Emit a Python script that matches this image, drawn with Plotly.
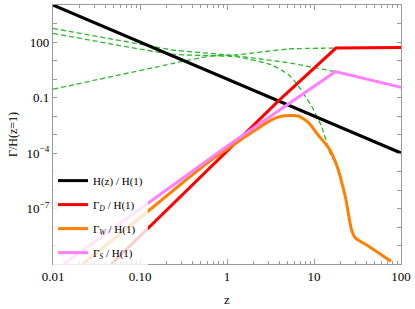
import plotly.graph_objects as go

# ---- data ----
z_H = [0.01, 100]
H_ratio = [1e4, 1e-4]

z_D = [0.047, 0.135, 1.0, 3.93, 17.9, 100]
gamma_D = [1e-10, 1.26e-8, 1.25e-4, 0.068, 47, 50]

z_W = [0.022, 0.135, 0.28, 0.67, 1.0, 1.65, 3.0, 3.93, 5.1, 6.6, 8.6, 11.2, 14.7, 18.1, 22.9, 26.9, 29.8, 42.0, 77.0]
gamma_W = [1e-10, 1e-7, 1.7e-6, 4.4e-5, 1.6e-4, 8.1e-4, 5.0e-3, 9.0e-3, 1.05e-2, 1.0e-2, 4.5e-3, 9.1e-4, 1.9e-4,
           2.4e-5, 4.3e-7, 7.6e-9, 2.6e-9, 9.5e-10, 1.4e-10]

z_S = [0.0133, 0.135, 1.0, 17.6, 100]
gamma_S = [1e-10, 2.6e-7, 2.3e-4, 2.5, 0.36]

# green dashed component curves
z_g1 = [0.01, 0.235, 1.27, 5.1, 17.6]
g1 = [540, 37, 18, 7.6, 2.5]
z_g2 = [0.01, 0.235, 1.27, 3.2, 5.1, 6.15, 9.35, 12.2, 15.5, 18.1, 22.9, 26.9, 29.8]
g2 = [295, 22, 16, 6.0, 1.7, 0.66, 0.035, 2.8e-3, 8e-5, 2.4e-5, 4.3e-7, 7.6e-9, 2.6e-9]
z_g3 = [0.01, 0.235, 0.62, 1.27, 5.1, 17.9]
g3 = [0.28, 6.8, 17, 20, 42, 47]

x_ticks = [0.01, 0.1, 1, 10, 100]
x_labels = ["0.01", "0.10", "1", "10", "100"]
y_ticks = [100, 0.1, 1e-4, 1e-7]
y_labels = ["100", "0.1", "10<sup>−4</sup>", "10<sup>−7</sup>"]

GREEN = "#2db82d"
fig = go.Figure()
for zz, gg, sh in [(z_g1, g1, "linear"), (z_g2, g2, "spline"), (z_g3, g3, "spline")]:
    fig.add_trace(go.Scatter(x=zz, y=gg, mode="lines", showlegend=False,
                             line=dict(color=GREEN, width=1.3, dash="5px,3px", shape=sh, smoothing=0.5)))

fig.add_trace(go.Scatter(x=z_H, y=H_ratio, mode="lines", name="H(z) / H(1)",
                         legendgroup="a", line=dict(color="black", width=3)))
fig.add_trace(go.Scatter(x=z_D, y=gamma_D, mode="lines", name="Γ<sub><i>D</i></sub> / H(1)",
                         legendgroup="b", line=dict(color="#ff0000", width=3)))
fig.add_trace(go.Scatter(x=z_W, y=gamma_W, mode="lines", name="Γ<sub><i>W</i></sub> / H(1)",
                         legendgroup="c", line=dict(color="#ff8000", width=3, shape="spline", smoothing=0.6)))
fig.add_trace(go.Scatter(x=z_S, y=gamma_S, mode="lines", name="Γ<sub><i>S</i></sub> / H(1)",
                         legendgroup="d", line=dict(color="#ff80ff", width=3)))

axis_common = dict(
    type="log", showline=True, linecolor="#999999", linewidth=1.2, mirror="allticks",
    ticks="inside", tickcolor="#999999", showgrid=False, zeroline=False,
    tickfont=dict(family="Liberation Serif", size=13, color="black"),
)
fig.update_xaxes(**axis_common, range=[-2, 2], tickvals=x_ticks, ticktext=x_labels, ticklen=5,
                 minor=dict(ticks="inside", ticklen=3, tickcolor="#999999", dtick="D1", showgrid=False),
                 title=dict(text="z", font=dict(family="Liberation Serif", size=13, color="black"), standoff=12))
fig.update_yaxes(**axis_common, range=[-10, 4], tickvals=y_ticks, ticktext=y_labels, ticklen=4,
                 minor=dict(ticks="inside", ticklen=4, tickcolor="#999999", tickmode="linear",
                            tick0=0, dtick=1, showgrid=False),
                 title=dict(text="Γ/H(z=1)", font=dict(family="Liberation Serif", size=12, color="black"), standoff=6))

fig.update_layout(
    width=415, height=309, margin=dict(l=53, r=12, t=4, b=43),
    paper_bgcolor="white", plot_bgcolor="white",
    font=dict(family="Liberation Serif", color="black"),
    legend=dict(x=0.0, y=-0.012, xanchor="left", yanchor="bottom", bgcolor="rgba(255,255,255,0.8)",
                font=dict(family="Liberation Serif", size=11, color="black"),
                tracegroupgap=5, itemwidth=30),
)
fig.write_html("out.html", config={"displayModeBar": False},
               post_script="document.body.style.margin='0';document.body.style.padding='0';")
